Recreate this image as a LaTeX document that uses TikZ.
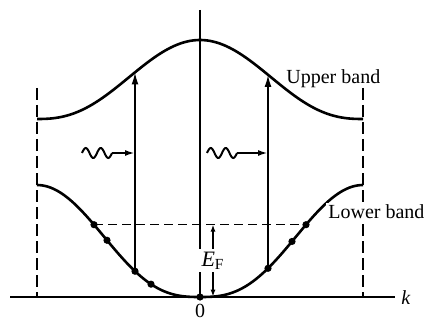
\documentclass[tikz,border=0pt]{standalone}
\usepackage{fontspec}
\setmainfont{Liberation Serif}
\usetikzlibrary{arrows.meta}
\begin{document}
\begin{tikzpicture}[x=0.5pt,y=-0.5pt,
  declare function={ulo(\t)=max(abs((1-cos(1.10429*(\t-200)))/2),0.002);
                    uup(\t)=max(abs((1+cos(1.10429*(\t-200)))/2),0.002);
                    lo(\t)=297-112*ulo(\t)*sqrt(sqrt(ulo(\t)))*sqrt(sqrt(sqrt(ulo(\t))));
                    up(\t)=119-79*uup(\t)*sqrt(sqrt(uup(\t)));},
  band/.style={line width=1.3pt},
  thinline/.style={line width=0.7pt},
  zone/.style={line width=0.7pt, dash pattern=on 6pt off 2.5pt},
  fermi/.style={line width=0.7pt, dash pattern=on 4.5pt off 2.5pt},
  dot/.style={circle, fill=black, inner sep=0pt, minimum size=3.6pt},
  trans/.style={line width=0.85pt, -{Latex[length=6pt,width=3.4pt]}},
  photon/.style={line width=1pt},
  lbl/.style={font=\fontsize{10}{12}\selectfont, inner sep=1pt}]
\useasboundingbox (0,0) rectangle (427,320);
% frame coordinates
\coordinate (zltop) at (37,88); \coordinate (zlbot) at (37,297);
\coordinate (zrtop) at (363,88); \coordinate (zrbot) at (363,297);
\coordinate (axl) at (10,297); \coordinate (axr) at (395,297);
\coordinate (ctop) at (200,10); \coordinate (cbot) at (200,297);
\draw[zone] (zltop) -- (zlbot);
\draw[zone] (zrtop) -- (zrbot);
\draw[thinline] (ctop) -- (cbot);
\draw[thinline] (axl) -- (axr);
% bands
\draw[band] plot[domain=37:363,samples=120,smooth] (\x,{up(\x)});
\draw[band] plot[domain=37:363,samples=120,smooth] (\x,{lo(\x)});
% dots on lower band
\node[dot] (l1) at (94,{lo(94)}) {};
\node[dot] (l2) at (107,{lo(107)}) {};
\node[dot] (l3) at (135,{lo(135)}) {};
\node[dot] (l4) at (151,{lo(151)}) {};
\node[dot] (l0) at (200,297) {};
\node[dot] (r3) at (268,{lo(268)}) {};
\node[dot] (r2) at (292,{lo(292)}) {};
\node[dot] (r1) at (306,{lo(306)}) {};
% Fermi level
\draw[fermi] (l1.center) -- (r1.center);
% transitions
\coordinate (ul) at (135,{up(135)});
\coordinate (ur) at (268,{up(268)});
\draw[trans] (l3.center) -- (ul);
\draw[trans] (r3.center) -- (ur);
% photons
\draw[photon] plot[domain=0:720,samples=80,smooth] ({82+\x/720*30},{153-5*sin(\x)});
\coordinate (pl) at (112,153);
\draw[photon,-{Latex[length=5pt,width=3pt]}] (pl) -- (pl -| ul);
\draw[photon] plot[domain=0:720,samples=80,smooth] ({207+\x/720*30},{153-5*sin(\x)});
\coordinate (pr) at (237,153);
\draw[photon,-{Latex[length=5pt,width=3pt]}] (pr) -- (pr -| ur);
% E_F
\coordinate (efb) at (213,296.5);
\coordinate (eft) at (efb |- l1);
\draw[line width=0.7pt,{Latex[length=3.5pt,width=2.6pt]}-{Latex[length=3.5pt,width=2.6pt]}] (efb) -- (eft)
  node[midway, fill=white, font=\fontsize{11}{13}\selectfont, inner sep=1.5pt] (ef) {\textit{E}\textsubscript{F}};
% labels
\node[lbl, anchor=west] (ub) at (284,79) {Upper band};
\node[lbl, anchor=west, fill=white] (lb) at (326,212) {Lower band};
\node[lbl] (zero) at (200,311) {0};
\node[lbl, anchor=west] (kl) at (399,298) {\textit{k}};
\end{tikzpicture}
\end{document}
